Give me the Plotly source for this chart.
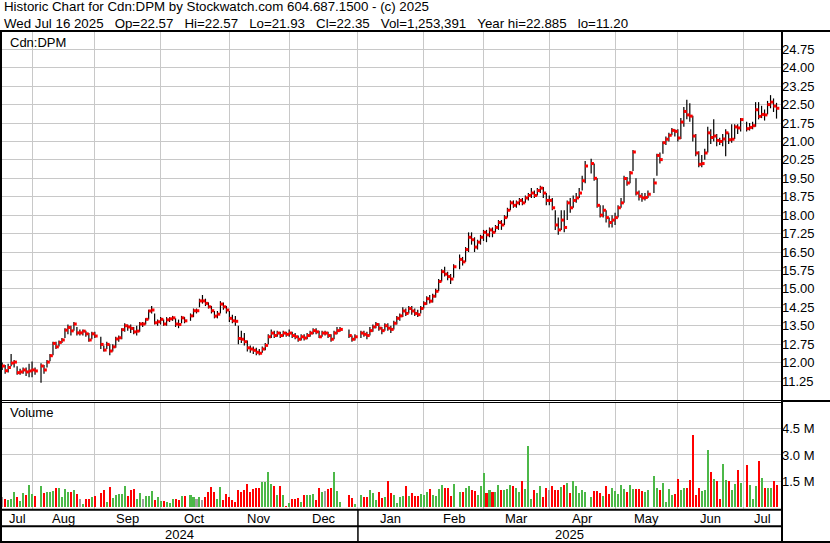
import datetime as dt
import plotly.graph_objects as go

# ---------------- data ----------------
START = "2024-07-18"          # first weekday slot shown; holidays are blank slots (None)

close = [
    11.86, 11.67, 11.80, 11.98, 12.02, 11.59, 11.62, 11.70, 11.62, 11.66,
    11.70, 11.66, None, 11.86, 11.70, 12.02, 12.28, 12.78, 12.64, 12.82, 12.92, 13.32, 13.43, 13.29, 13.57, 13.21, 13.21, 13.28, 13.17, 12.92, 13.17, 13.08,
    None, 12.74, 12.51, 12.74, 12.47, 12.64, 12.96, 13.01, 13.34, 13.50, 13.45, 13.39, 13.25, 13.28, 13.57, 13.57, 13.76, 14.10, 14.14, 13.62, 13.66,
    13.76, 13.57, 13.74, 13.78, 13.82, 13.57, 13.55, 13.82, 13.70, None, 13.90, 14.11, 14.11, 14.51, 14.51, 14.41, 14.27, 14.11, 13.89, 13.97, 14.38, 14.27, 14.14,
    13.80, 13.70, 13.68, 12.98, 12.95, 12.85, 12.60, 12.55, 12.50, 12.42, 12.38, 12.55, 12.70, 13.05, 13.20, 13.10, 13.20, 13.10, 13.20, 13.15, 13.20,
    13.10, 13.05, 12.95, 13.05, 13.00, 13.10, 13.20, 13.30, 13.25, 13.05, 13.20, 13.20, 13.10, 12.95, 13.20, 13.30, 13.35, None, None, 13.10, 12.95, 13.05,
    None, 13.20, 13.15, 13.10, 13.30, 13.45, 13.55, 13.40, 13.30, 13.50, 13.40, 13.35, 13.60, 13.80, 13.90, 14.10, 14.00, 14.20, 14.10, 14.00, 13.95, 14.20, 14.40,
    14.60, 14.50, 14.70, 14.90, 15.30, 15.70, 15.60, 15.50, 15.40, 15.90, None, 16.20, 16.10, 16.60, 17.10, 17.00, 16.70, 16.90, 17.10, 17.30,
    17.20, 17.40, 17.30, 17.50, 17.70, 17.60, 17.90, 18.20, 18.50, 18.40, 18.50, 18.60, 18.50, 18.70, 18.80, 18.90, 18.80, 19.00, 19.10, 18.90, 18.60,
    18.60, 18.30, 17.60, 17.40, 17.80, 17.50, 18.50, 18.30, 18.60, 18.70, 18.90, 19.40, 20.00, None, 20.10, 19.50, 18.40, 18.00, 18.20, 17.90, 17.70, 17.80,
    17.90, 18.30, 18.50, 19.49, 19.31, 19.72, 20.57, 18.90, 18.77, 18.70, 18.72, 18.85, None, 19.31, 20.43, 20.26, 20.95, 21.09, 21.25, 21.45, 21.41, 21.14,
    21.79, 22.22, 22.08, 22.03, 21.22, 20.53, 20.07, 20.10, 20.53, 21.35, 21.16, 21.22, 21.04, 21.00, 21.10, 21.35, 21.07, 21.09, 21.59, 21.55, 21.89,
    None, 21.52, 21.57, 21.64, 22.29, 22.02, 22.10, 22.08, 22.50, 22.60, 22.44, 22.35,
]

high = [
    12.00, 11.90, 11.95, 12.35, 12.10, 11.85, 11.75, 11.80, 11.80, 11.95,
    12.04, 11.80, None, 11.97, 11.90, 12.10, 12.35, 12.85, 12.85, 12.90, 13.00, 13.40, 13.55, 13.50, 13.65, 13.45, 13.35, 13.35, 13.30, 13.20, 13.25, 13.25,
    None, 13.05, 12.70, 12.85, 12.75, 12.75, 13.05, 13.10, 13.40, 13.60, 13.55, 13.55, 13.45, 13.50, 13.65, 13.65, 13.80, 14.15, 14.30, 14.00, 13.75,
    13.85, 13.75, 13.85, 13.85, 13.90, 13.80, 13.75, 13.90, 13.85, None, 14.00, 14.20, 14.20, 14.60, 14.75, 14.60, 14.45, 14.30, 14.10, 14.10, 14.50, 14.45, 14.30,
    14.10, 13.95, 13.90, 13.50, 13.30, 13.20, 12.90, 12.70, 12.65, 12.60, 12.55, 12.65, 12.80, 13.15, 13.35, 13.30, 13.30, 13.25, 13.30, 13.25, 13.35,
    13.25, 13.20, 13.10, 13.15, 13.15, 13.20, 13.30, 13.40, 13.40, 13.30, 13.30, 13.30, 13.25, 13.15, 13.30, 13.45, 13.45, None, None, 13.35, 13.10, 13.15,
    None, 13.30, 13.30, 13.25, 13.45, 13.55, 13.65, 13.60, 13.45, 13.60, 13.60, 13.50, 13.70, 13.90, 14.00, 14.25, 14.20, 14.30, 14.30, 14.20, 14.15, 14.30, 14.50,
    14.70, 14.75, 14.80, 15.00, 15.40, 15.80, 15.90, 15.70, 15.60, 16.00, None, 16.40, 16.30, 16.70, 17.30, 17.30, 17.10, 17.00, 17.20, 17.40,
    17.40, 17.50, 17.50, 17.60, 17.80, 17.80, 18.00, 18.30, 18.60, 18.60, 18.60, 18.70, 18.70, 18.80, 18.90, 19.10, 19.00, 19.10, 19.20, 19.15, 18.90,
    18.80, 18.70, 18.20, 17.90, 18.20, 18.20, 18.60, 18.70, 18.80, 18.90, 19.10, 19.60, 20.20, None, 20.30, 20.10, 19.50, 18.40, 18.40, 18.20, 17.90, 18.00,
    18.10, 18.40, 18.70, 19.60, 19.55, 19.80, 20.65, 19.50, 19.00, 18.90, 18.90, 19.00, None, 19.50, 20.50, 20.55, 21.00, 21.20, 21.35, 21.55, 21.50, 21.50,
    21.95, 22.40, 22.70, 22.55, 22.05, 21.30, 20.60, 20.45, 20.70, 21.60, 21.50, 21.90, 21.30, 21.15, 21.30, 21.50, 21.35, 21.70, 21.70, 21.70, 21.95,
    None, 21.80, 21.75, 21.80, 22.60, 22.60, 22.45, 22.30, 22.65, 22.885, 22.75, 22.57,
]

low = [
    11.70, 11.55, 11.60, 11.85, 11.80, 11.50, 11.50, 11.55, 11.45, 11.40,
    11.40, 11.50, None, 11.18, 11.55, 11.80, 12.05, 12.30, 12.55, 12.65, 12.80, 13.00, 13.15, 13.10, 13.30, 13.10, 13.10, 13.10, 13.05, 12.85, 12.95, 13.00,
    None, 12.55, 12.45, 12.55, 12.30, 12.45, 12.60, 12.85, 12.95, 13.25, 13.30, 13.20, 13.15, 13.10, 13.25, 13.45, 13.55, 13.75, 14.00, 13.55, 13.50,
    13.55, 13.50, 13.50, 13.65, 13.70, 13.45, 13.40, 13.60, 13.60, None, 13.70, 13.85, 14.00, 14.25, 14.40, 14.30, 14.20, 14.00, 13.80, 13.80, 14.00, 14.15, 14.00,
    13.65, 13.60, 13.50, 12.75, 12.80, 12.70, 12.45, 12.40, 12.35, 12.30, 12.30, 12.40, 12.50, 12.75, 13.00, 13.00, 13.05, 13.00, 13.05, 13.05, 13.05,
    13.00, 12.95, 12.85, 12.90, 12.90, 12.95, 13.05, 13.15, 13.15, 13.00, 13.05, 13.10, 13.00, 12.85, 12.95, 13.15, 13.25, None, None, 13.00, 12.85, 12.90,
    None, 13.00, 13.05, 12.95, 13.10, 13.25, 13.40, 13.30, 13.15, 13.30, 13.30, 13.20, 13.35, 13.55, 13.70, 13.85, 13.90, 14.00, 13.95, 13.90, 13.85, 14.00, 14.20,
    14.35, 14.40, 14.45, 14.65, 14.90, 15.30, 15.50, 15.35, 15.20, 15.45, None, 15.80, 15.95, 16.10, 16.50, 16.80, 16.50, 16.60, 16.80, 16.95,
    16.90, 17.10, 17.10, 17.30, 17.40, 17.40, 17.60, 17.90, 18.20, 18.30, 18.30, 18.40, 18.40, 18.50, 18.60, 18.70, 18.70, 18.80, 18.90, 18.70, 18.40,
    18.40, 18.20, 17.40, 17.20, 17.40, 17.30, 17.80, 18.10, 18.30, 18.50, 18.70, 19.00, 19.30, None, 19.70, 19.40, 18.30, 17.90, 17.90, 17.70, 17.50, 17.50,
    17.60, 17.90, 18.30, 18.50, 19.20, 19.30, 19.80, 18.80, 18.60, 18.55, 18.60, 18.70, None, 18.90, 19.60, 20.10, 20.50, 20.85, 21.00, 21.25, 21.20, 21.00,
    21.10, 21.60, 21.90, 21.80, 21.00, 20.40, 19.95, 19.95, 20.25, 20.55, 20.90, 21.00, 20.80, 20.85, 20.80, 20.40, 20.90, 20.95, 21.10, 21.30, 21.40,
    None, 21.40, 21.45, 21.50, 21.60, 21.90, 21.95, 21.85, 22.10, 22.35, 22.20, 21.93,
]

volume_m = [  # millions of shares
    0.56, 0.46, 0.43, 0.46, 0.88, 0.56, 0.38, 0.81, 0.69, 1.27,
    0.75, 0.65, None, 1.23, 0.81, 0.88, 0.85, 0.94, 1.10, 1.10, 0.58, 1.04, 0.88, 0.88, 1.00, 0.75, 0.46, 0.17, 0.46, 0.46, 0.56, 0.65,
    None, 0.81, 0.98, 0.29, 1.17, 0.52, 0.71, 0.75, 0.75, 1.23, 0.65, 1.00, 1.04, 0.46, 0.81, 0.46, 0.65, 0.65, 0.94, 0.40, 0.56,
    0.38, 0.38, 0.33, 0.25, 0.46, 0.50, 0.40, 0.65, 0.65, None, 0.69, 0.56, 0.46, 0.56, 0.42, 0.56, 0.85, 1.14, 0.85, 0.46, 1.17, 0.42, 0.75,
    0.56, 0.42, 0.33, 0.98, 0.85, 1.00, 1.33, 0.90, 1.04, 1.10, 1.08, 1.46, 1.46, 2.00, 1.33, 1.23, 0.71, 1.23, 0.69, 0.08, 0.25,
    0.46, 0.46, 0.52, 0.29, 0.69, 0.69, 0.69, 0.75, 0.40, 1.10, 0.88, 0.92, 1.04, 1.10, 2.00, 0.92, 0.29, None, None, 0.69, 0.52, 0.17,
    None, 0.69, 0.60, 0.60, 1.00, 0.81, 0.40, 0.88, 0.52, 0.60, 1.50, 0.81, 0.71, 0.25, 0.60, 0.65, 1.20, 0.65, 0.81, 0.65, 0.62, 0.75, 0.71,
    0.88, 1.04, 0.71, 0.65, 1.04, 1.30, 1.10, 1.10, 0.65, 1.33, None, 0.90, 0.85, 1.10, 1.20, 1.00, 0.95, 0.70, 1.20, 1.96,
    0.80, 1.00, 0.90, 0.90, 1.30, 1.00, 1.00, 1.05, 1.30, 1.20, 1.10, 0.90, 1.50, 1.05, 3.54, 0.45, 1.00, 0.80, 1.20, 0.60, 1.10,
    1.00, 1.20, 1.00, 1.00, 1.14, 1.29, 1.39, 0.81, 1.48, 1.23, 0.81, 1.00, 0.90, None, 0.56, 0.91, 0.91, 0.81, 0.65, 1.23, 0.75, 1.10,
    0.94, 0.75, 1.29, 1.04, 0.87, 1.29, 1.04, 1.04, 1.04, 0.91, 0.85, 0.98, None, 1.81, 1.10, 0.98, 1.39, 0.31, 1.04, 0.71, 0.75, 1.62,
    0.98, 1.10, 1.10, 1.56, 4.16, 0.71, 1.10, 0.91, 0.98, 3.29, 2.04, 1.62, 1.52, 0.46, 2.49, 1.56, 1.48, 0.98, 1.33, 2.14, 1.39,
    None, 2.43, 1.29, 0.46, 1.23, 2.66, 1.68, 1.10, 1.10, 1.10, 1.52, 1.29,
]

price_ticks = [11.25, 12.00, 12.75, 13.50, 14.25, 15.00, 15.75, 16.50, 17.25, 18.00,
               18.75, 19.50, 20.25, 21.00, 21.75, 22.50, 23.25, 24.00, 24.75]
volume_ticks = [1.5, 3.0, 4.5]
volume_tick_text = ["1.5 M", "3.0 M", "4.5 M"]

header_1 = "Historic Chart for Cdn:DPM by Stockwatch.com 604.687.1500 - (c) 2025"
header_2 = ("Wed Jul 16 2025   Op=22.57   Hi=22.57   Lo=21.93   Cl=22.35   "
            "Vol=1,253,391   Year hi=22.885   lo=11.20")
symbol_label = "Cdn:DPM"
volume_label = "Volume"

# ---------------- slots / calendar ----------------
n = len(close)
dates = []
d = dt.date.fromisoformat(START)
while len(dates) < n:
    if d.weekday() < 5:
        dates.append(d)
    d += dt.timedelta(days=1)
idx = list(range(n))

# month boundaries: slot of last weekday on/before the 1st of each month
months = []
cur = dt.date(dates[0].year, dates[0].month, 1)
while cur <= dates[-1]:
    months.append(cur)
    cur = dt.date(cur.year + (cur.month == 12), cur.month % 12 + 1, 1)
bounds = []
for m in months[1:]:
    b = max(i for i, dd in enumerate(dates) if dd <= m)
    bounds.append(b)

W, H = 830, 543
def PX(x): return x / W
def PY(y): return 1 - y / H

# axis geometry (pixels)
X_L, X_R = 2, 781
P_T, P_B = 32, 400
V_T, V_B = 403, 509
x_range = [-0.05, 260.5]
price_range = [10.477, 25.454]
vol_range = [-0.10, 5.98]

GRID = "#c8c8c8"
RED = "#ff0000"
GREEN = "#4cb848"
GRAY = "#a0a0a0"
FONT = "Liberation Sans, Arial, sans-serif"

# ---------------- traces ----------------
hx, hy = [], []
for i in idx:
    if close[i] is None:
        continue
    hx += [i, i, None]
    hy += [low[i], high[i], None]

cx = [i + 0.45 for i in idx if close[i] is not None]
cy = [c for c in close if c is not None]

vcol = []
prev = None
for c in close:
    if c is None:
        vcol.append(GRAY)
        continue
    if prev is None or c == prev:
        vcol.append(GRAY)
    elif c > prev:
        vcol.append(GREEN)
    else:
        vcol.append(RED)
    prev = c

fig = go.Figure()
fig.add_trace(go.Scatter(x=hx, y=hy, mode="lines", line=dict(color="black", width=1.2),
                         hoverinfo="skip", xaxis="x", yaxis="y", showlegend=False))
fig.add_trace(go.Scatter(x=cx, y=cy, mode="markers",
                         marker=dict(symbol="square", size=3, color=RED, line=dict(width=0)),
                         xaxis="x", yaxis="y", showlegend=False))
fig.add_trace(go.Bar(x=idx, y=volume_m, marker=dict(color=vcol, line=dict(width=0)),
                     width=0.68, xaxis="x2", yaxis="y2", showlegend=False))

common_x = dict(range=x_range, domain=[PX(X_L), PX(X_R)], tickvals=bounds,
                showticklabels=False, showgrid=True, gridcolor=GRID, gridwidth=1,
                zeroline=False, showline=False, ticks="")
fig.update_layout(
    width=W, height=H, margin=dict(l=0, r=0, t=0, b=0),
    paper_bgcolor="white", plot_bgcolor="white",
    font=dict(family=FONT, size=13, color="black"),
    bargap=0,
    xaxis=dict(anchor="y", **common_x),
    xaxis2=dict(anchor="y2", matches="x", **common_x),
    yaxis=dict(domain=[PY(P_B), PY(P_T)], range=price_range, side="right",
               tickvals=price_ticks, ticktext=[f"{v:.2f}" for v in price_ticks],
               showgrid=True, gridcolor=GRID, gridwidth=1, zeroline=False,
               showline=False, ticks="", tickfont=dict(size=13), anchor="x"),
    yaxis2=dict(domain=[PY(V_B), PY(V_T)], range=vol_range, side="right",
                tickvals=volume_ticks, ticktext=volume_tick_text,
                showgrid=True, gridcolor=GRID, gridwidth=1, zeroline=False,
                showline=False, ticks="", tickfont=dict(size=13), anchor="x2"),
)

# ---------------- frame lines ----------------
shapes = []
def hline(y, x0, x1, w):
    shapes.append(dict(type="line", xref="paper", yref="paper", x0=PX(x0), x1=PX(x1),
                       y0=PY(y), y1=PY(y), line=dict(color="black", width=w)))
def vline(x, y0, y1, w):
    shapes.append(dict(type="line", xref="paper", yref="paper", x0=PX(x), x1=PX(x),
                       y0=PY(y0), y1=PY(y1), line=dict(color="black", width=w)))

hline(31, 0, 830, 2)
hline(400.5, 0, 782, 1)
hline(402.5, 0, 782, 1)
hline(401, 782, 830, 2)
hline(509.8, 0, 782, 2)
hline(526.3, 0, 782, 2)
hline(542, 0, 830, 2)
vline(1, 31, 543, 2)
vline(782, 31, 543, 2)
jan_bound = [b for b, m in zip(bounds, months[1:]) if m.month == 1][0]
shapes.append(dict(type="line", xref="x", yref="paper", x0=jan_bound, x1=jan_bound,
                   y0=PY(510), y1=PY(541), line=dict(color="black", width=1.5)))
fig.update_layout(shapes=shapes)

# ---------------- text ----------------
ann = []
def text(x, y, s, xanchor="left", xref="paper", size=13):
    ann.append(dict(x=x, y=PY(y), xref=xref, yref="paper", text=s, showarrow=False,
                    xanchor=xanchor, yanchor="middle", font=dict(family=FONT, size=size, color="black")))

text(PX(1.5), 7, header_1, size=13.3)
text(PX(1.5), 23, header_2.replace(" ", "\u00a0"), size=13.3)
text(PX(8), 42, symbol_label)
text(PX(8), 413, volume_label)

edges = [x_range[0]] + bounds + [x_range[1]]
for k, m in enumerate(months):
    text((edges[k] + edges[k + 1]) / 2, 518, m.strftime("%b"), xanchor="center", xref="x")
years = sorted(set(m.year for m in months))
text((x_range[0] + jan_bound) / 2, 534.5, str(years[0]), xanchor="center", xref="x")
text((jan_bound + x_range[1]) / 2, 534.5, str(years[1]), xanchor="center", xref="x")
fig.update_layout(annotations=ann)

fig.write_html("out.html", config={"displayModeBar": False, "staticPlot": True},
               post_script="document.body.style.margin='0';document.body.style.overflow='hidden';")
